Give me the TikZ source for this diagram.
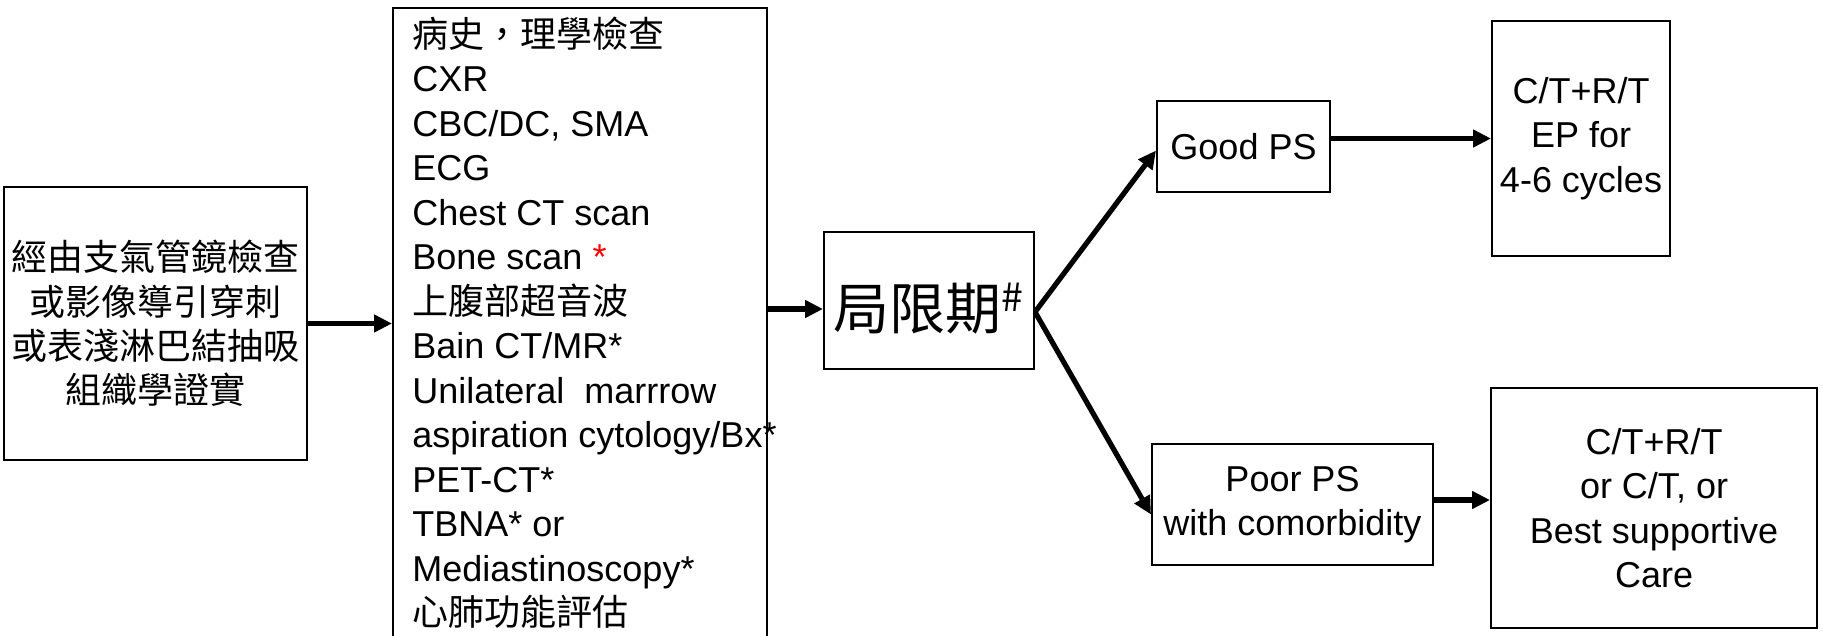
\documentclass[tikz,border=0pt]{standalone}
\usepackage{fontspec}
\setmainfont{Liberation Sans}
\newfontfamily\cjk{Noto Sans CJK TC}
\usetikzlibrary{arrows.meta}
\definecolor{starred}{RGB}{255,0,0}
\begin{document}
\begin{tikzpicture}[x=0.5pt,y=-0.5pt,
  box/.style={draw, line width=1pt, inner sep=0pt, align=center},
  arr/.style={line width=2.6pt, -{Triangle[length=9pt,width=8.5pt]}},
  txt/.style={font=\fontsize{18}{22.25}\selectfont},
  cjktxt/.style={font=\cjk\fontsize{18}{22.2}\selectfont}]
\path[use as bounding box] (0,0) rectangle (1823,636);
\clip (0,0) rectangle (1823,636);
% boxes
\node[box, cjktxt, minimum width=151.5pt, minimum height=136.5pt] (biopsy) at (155.5,323.5)
  {經由支氣管鏡檢查\\或影像導引穿刺\\或表淺淋巴結抽吸\\組織學證實};
\node[box, minimum width=187pt, minimum height=325pt, anchor=north west] (exams) at (392,7) {};
\node[txt, anchor=base west, align=left, inner sep=0pt] (examlist) at (412,625.7)
  {{\cjk 病史，理學檢查}\\
   CXR\\
   CBC/DC, SMA\\
   ECG\\
   Chest CT scan\\
   Bone scan \textcolor{starred}{*}\\
   {\cjk 上腹部超音波}\\
   Bain CT/MR*\\
   Unilateral\ \ marrrow\\
   aspiration cytology/Bx*\\
   PET-CT*\\
   TBNA* or\\
   Mediastinoscopy*\\
   {\cjk 心肺功能評估}};
\node[box, minimum width=105pt, minimum height=68.5pt] (stage) at (929,300.5)
  {\raisebox{-4pt}[\height][\depth]{\cjk\fontsize{28}{34}\selectfont 局限期\textsuperscript{\#}}};
\node[box, txt, minimum width=86.5pt, minimum height=45.5pt] (goodps) at (1243.5,146.5) {Good PS};
\node[box, txt, minimum width=89pt, minimum height=117.5pt] (ctrt) at (1581,138.5)
  {C/T+R/T\\EP for\\4-6 cycles};
\node[box, txt, minimum width=140.5pt, minimum height=60.5pt] (poorps) at (1292.5,504.5)
  {Poor PS\\with comorbidity};
\node[box, txt, minimum width=163pt, minimum height=120pt] (bsc) at (1654,508)
  {C/T+R/T\\or C/T, or\\Best supportive\\Care};
% connectors
\draw[arr] (biopsy.east) -- (biopsy.east -| exams.west);
\draw[arr] ([yshift=-4.25pt]stage.west -| exams.east) -- ([yshift=-4.25pt]stage.west);
\draw[arr] ([yshift=-5.75pt]stage.east) -- ([yshift=-2pt]goodps.west);
\draw[arr] ([yshift=-5.75pt]stage.east) -- ([yshift=-5pt]poorps.west);
\draw[arr] (goodps.east |- ctrt.west) -- (ctrt.west);
\draw[arr] ([yshift=2.25pt]poorps.east) -- ([yshift=2.25pt]poorps.east -| bsc.west);
\end{tikzpicture}
\end{document}
